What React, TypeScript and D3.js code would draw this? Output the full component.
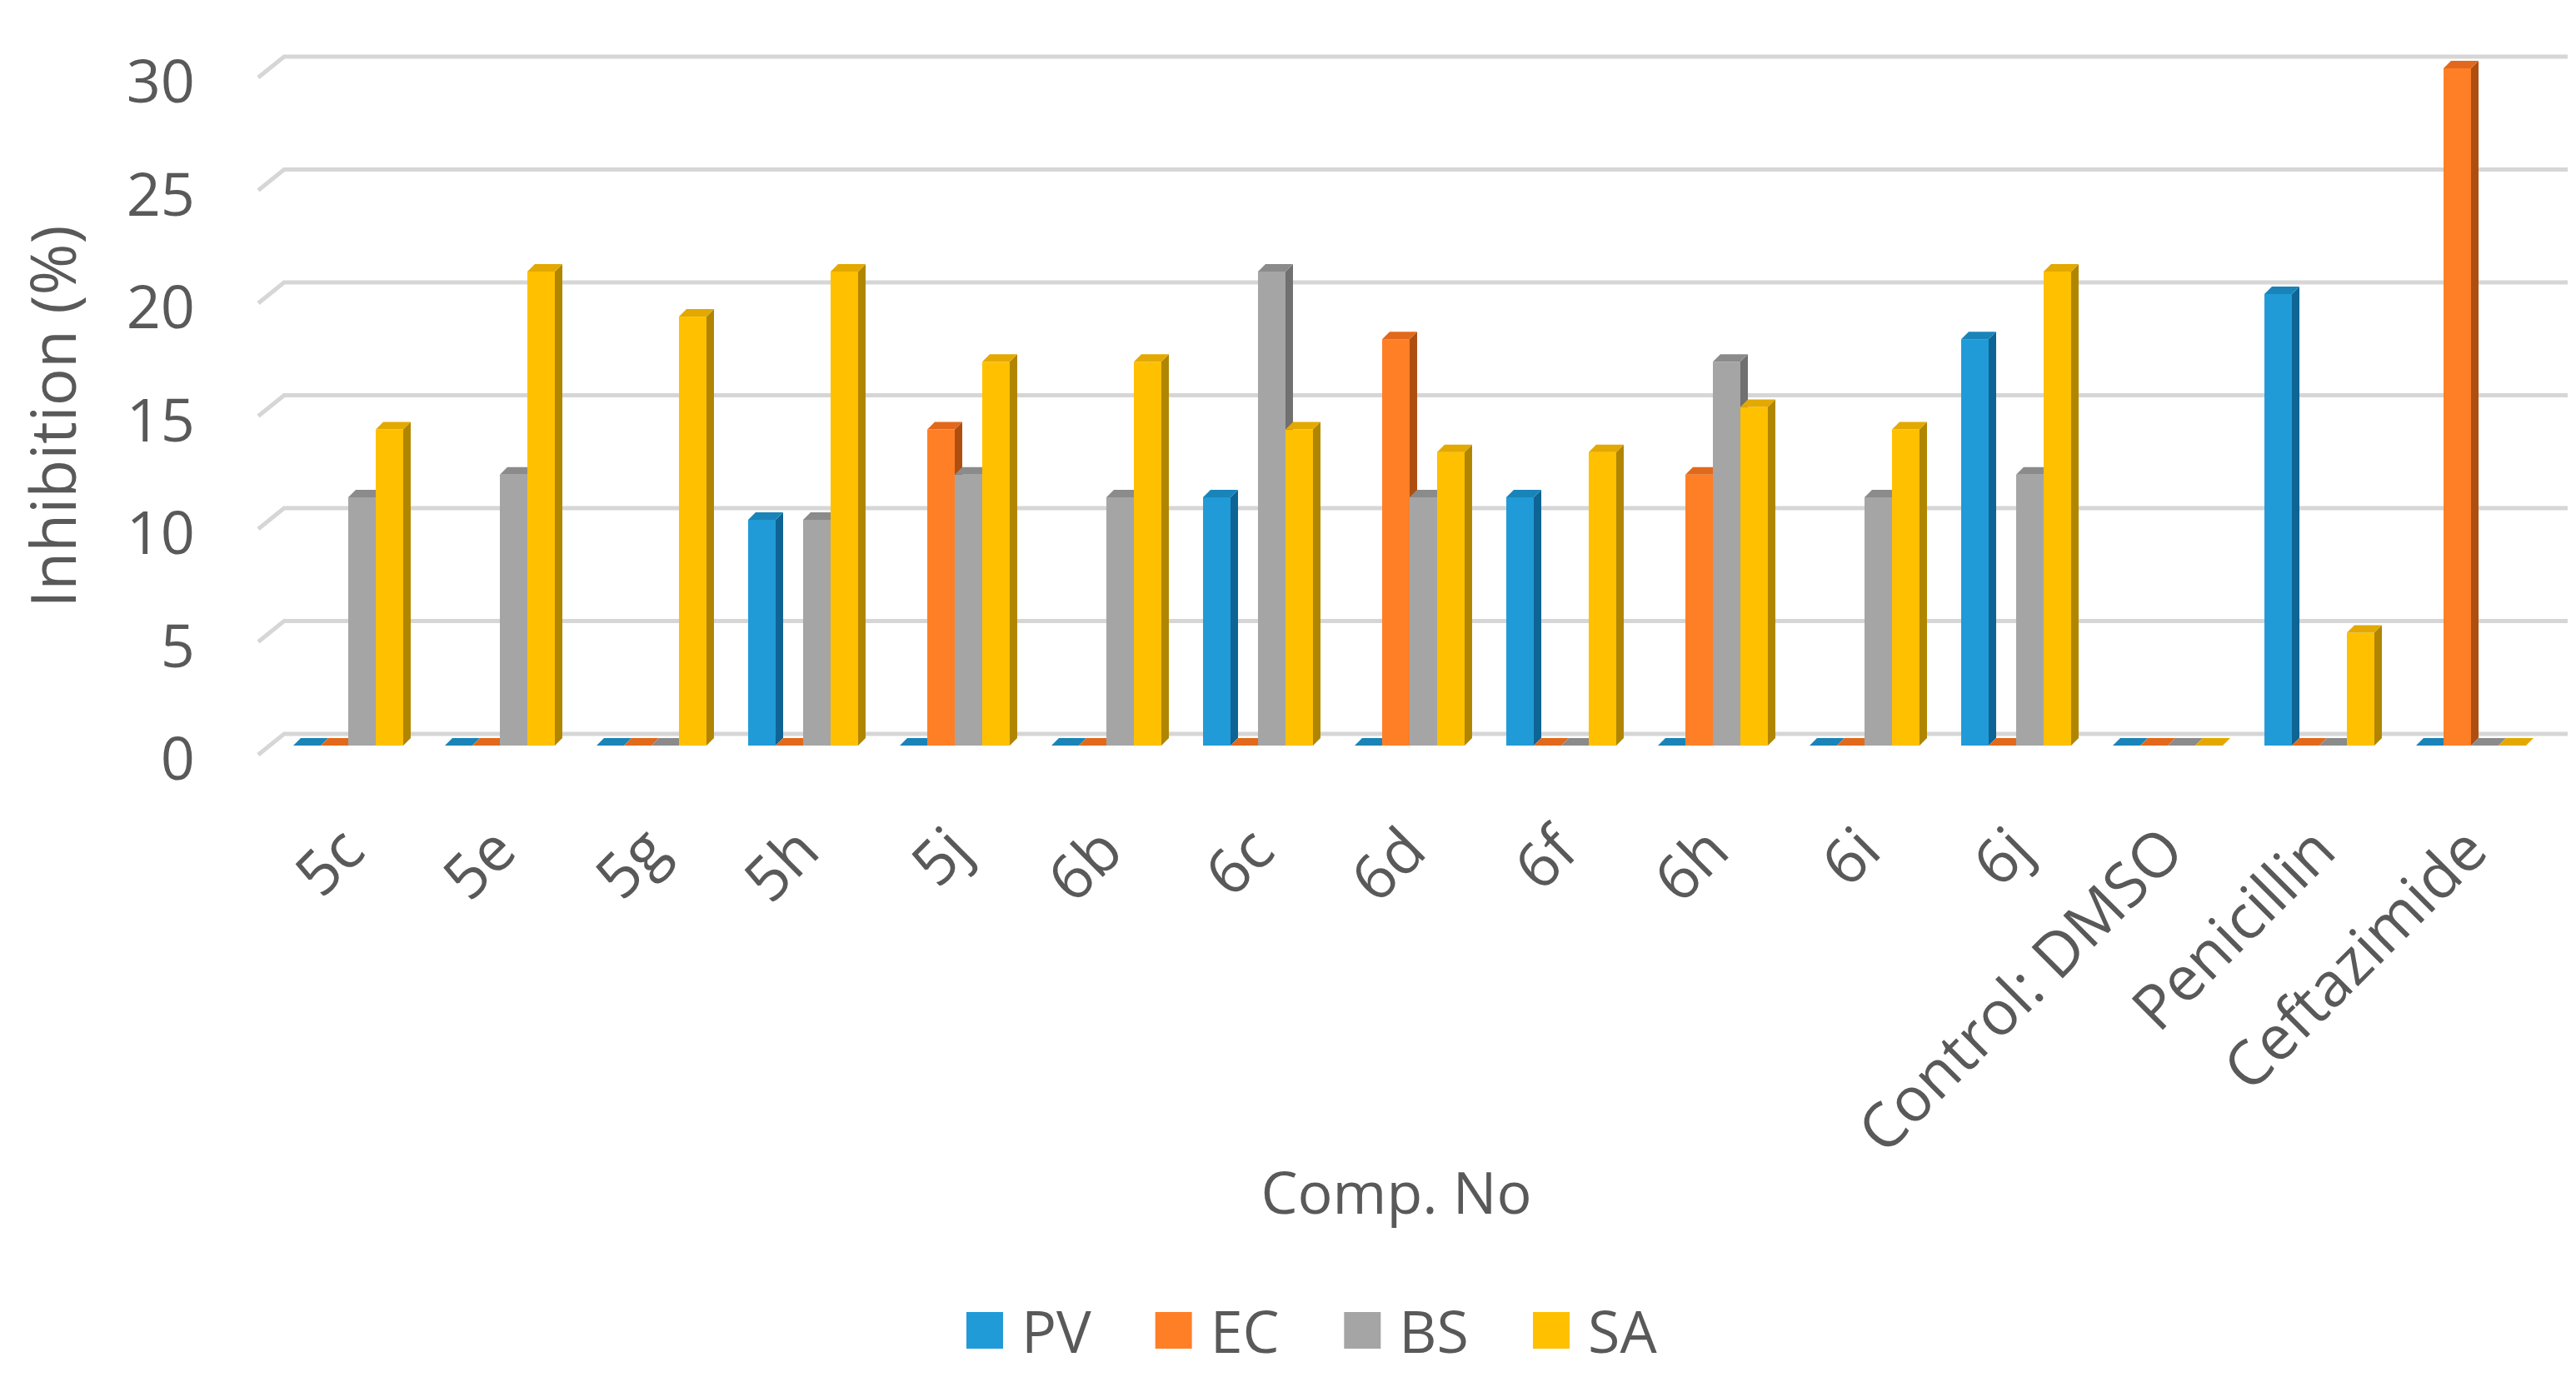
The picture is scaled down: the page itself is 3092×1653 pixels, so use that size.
import { useEffect, useRef } from "react";
import * as d3 from "d3";

/**
 * Inhibition (%) — 3D風クラスタ縦棒グラフ
 */

const CATEGORIES = [
  "5c", "5e", "5g", "5h", "5j", "6b", "6c", "6d", "6f", "6h", "6i", "6j",
  "Control: DMSO", "Penicillin", "Ceftazimide",
];
const SERIES = ["PV", "EC", "BS", "SA"];

const PV = [0, 0, 0, 10, 0, 0, 11, 0, 11, 0, 0, 18, 0, 20, 0];
const EC = [0, 0, 0, 0, 14, 0, 0, 18, 0, 12, 0, 0, 0, 0, 30];
const BS = [11, 12, 0, 10, 12, 11, 21, 11, 0, 17, 11, 12, 0, 0, 0];
const SA = [14, 21, 19, 21, 17, 17, 14, 13, 13, 15, 14, 21, 0, 5, 0];

const Y_TICKS = [0, 5, 10, 15, 20, 25, 30];

const W = 3092;
const H = 1653;
const FONT = "'Open Sans', 'Noto Sans', sans-serif";
const TEXT = "#595959";
const FS = 70;

// 奥の壁 / 床の奥行き
const WALL_LEFT = 341;
const WALL_RIGHT = 3082;
const FLOOR_DX = 31;
const FLOOR_DY = 25;
// 棒の前面は奥の壁から少し手前
const BAR_SHIFT = 14;
const BAR_DX = 9;
const BAR_DY = 9;

const COLORS: Record<string, { front: string; top: string; side: string }> = {
  PV: { front: "#209BD7", top: "#1A84B8", side: "#0E6494" },
  EC: { front: "#FF7F27", top: "#E2691B", side: "#AE4F10" },
  BS: { front: "#A5A5A5", top: "#8B8B8B", side: "#707070" },
  SA: { front: "#FFC000", top: "#E3A900", side: "#B08500" },
};

export default function App() {
  const svgRef = useRef<SVGSVGElement>(null);

  useEffect(() => {
    document.body.style.margin = "0";
    if (!svgRef.current) return;
    const svg = d3.select(svgRef.current);
    svg.selectAll("*").remove();

    const values: Record<string, number[]> = { PV, EC, BS, SA };

    const y = d3.scaleLinear().domain([0, 30]).range([881, 68]);
    const x = d3
      .scaleBand<string>()
      .domain(CATEGORIES)
      .range([327, 3057])
      .paddingInner(0.275)
      .paddingOuter(0.1375);
    const xs = d3.scaleBand<string>().domain(SERIES).range([0, x.bandwidth()]);

    // グリッド線
    const grid = svg.append("g");
    Y_TICKS.forEach((t) => {
      const yy = y(t);
      grid
        .append("path")
        .attr(
          "d",
          `M${WALL_LEFT - FLOOR_DX},${yy + FLOOR_DY}L${WALL_LEFT},${yy}L${WALL_RIGHT},${yy}`
        )
        .attr("fill", "none")
        .attr("stroke", "#D6D6D6")
        .attr("stroke-width", 5);
    });

    // 目盛ラベル
    svg
      .append("g")
      .selectAll("text")
      .data(Y_TICKS)
      .join("text")
      .attr("x", 234)
      .attr("y", (d) => y(d) + 27)
      .attr("text-anchor", "end")
      .attr("dominant-baseline", "central")
      .attr("font-family", FONT)
      .attr("font-size", 72)
      .attr("fill", TEXT)
      .text((d) => d);

    // 棒
    const bars = svg.append("g");
    const base = y(0) + BAR_SHIFT;
    CATEGORIES.forEach((c, i) => {
      SERIES.forEach((s) => {
        const v = values[s][i];
        const col = COLORS[s];
        const x0 = (x(c) ?? 0) + (xs(s) ?? 0);
        const w = xs.bandwidth();
        const top = y(v) + BAR_SHIFT;

        if (v > 0) {
          bars
            .append("rect")
            .attr("x", x0)
            .attr("y", top)
            .attr("width", w)
            .attr("height", base - top)
            .attr("fill", col.front);
          bars
            .append("path")
            .attr(
              "d",
              `M${x0 + w},${top}L${x0 + w + BAR_DX},${top - BAR_DY}L${x0 + w + BAR_DX},${base - BAR_DY}L${x0 + w},${base}Z`
            )
            .attr("fill", col.side);
        }
        bars
          .append("path")
          .attr(
            "d",
            `M${x0},${top}L${x0 + w},${top}L${x0 + w + BAR_DX},${top - BAR_DY}L${x0 + BAR_DX},${top - BAR_DY}Z`
          )
          .attr("fill", col.top);
      });
    });

    // カテゴリラベル
    svg
      .append("g")
      .selectAll("text")
      .data(CATEGORIES)
      .join("text")
      .attr("transform", (d) => `translate(${(x(d) ?? 0) + x.bandwidth() / 2 + 3},1005) rotate(-45)`)
      .attr("text-anchor", "end")
      .attr("dominant-baseline", "central")
      .attr("font-family", FONT)
      .attr("font-size", 74)
      .attr("fill", TEXT)
      .text((d) => d);

    // 軸タイトル
    svg
      .append("text")
      .attr("transform", "translate(62,500) rotate(-90)")
      .attr("text-anchor", "middle")
      .attr("dominant-baseline", "central")
      .attr("font-family", FONT)
      .attr("font-size", 75)
      .attr("fill", TEXT)
      .text("Inhibition (%)");

    svg
      .append("text")
      .attr("x", 1676)
      .attr("y", 1430)
      .attr("text-anchor", "middle")
      .attr("dominant-baseline", "central")
      .attr("font-family", FONT)
      .attr("font-size", FS)
      .attr("fill", TEXT)
      .text("Comp. No");

    // 凡例
    const lx = d3.scalePoint<string>().domain(SERIES).range([1160, 1840]);
    const legend = svg
      .append("g")
      .selectAll("g")
      .data(SERIES)
      .join("g")
      .attr("transform", (d) => `translate(${lx(d)},1597)`);
    legend
      .append("rect")
      .attr("x", 0)
      .attr("y", -22)
      .attr("width", 44)
      .attr("height", 44)
      .attr("fill", (d) => COLORS[d].front);
    legend
      .append("text")
      .attr("x", 66)
      .attr("y", 0)
      .attr("dominant-baseline", "central")
      .attr("font-family", FONT)
      .attr("font-size", FS)
      .attr("fill", TEXT)
      .text((d) => d);
  }, []);

  return (
    <svg
      ref={svgRef}
      width={W}
      height={H}
      viewBox={`0 0 ${W} ${H}`}
      style={{ display: "block", background: "#ffffff" }}
    />
  );
}
